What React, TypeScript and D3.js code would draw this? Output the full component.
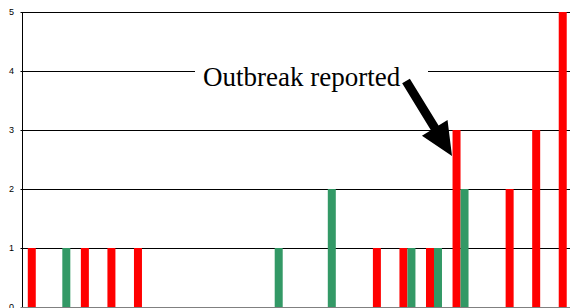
import React from "react";
import * as d3 from "d3";

const categories = [
  "1", "2", "3", "4", "5", "6", "7", "8", "9", "10", "11",
  "12", "13", "14", "15", "16", "17", "18", "19", "20", "21",
];
const redValues = [1, 0, 1, 1, 1, 0, 0, 0, 0, 0, 0, 0, 0, 1, 1, 1, 3, 0, 2, 3, 5];
const greenValues = [0, 1, 0, 0, 0, 0, 0, 0, 0, 1, 0, 2, 0, 0, 1, 1, 2, 0, 0, 0, 0];
const yTicks = [0, 1, 2, 3, 4, 5];
const seriesNames = ["red", "green"];
const seriesColors = { red: "#ff0000", green: "#339966" };
const annotation = "Outbreak reported";

const width = 570,
  height = 308;
const margin = { top: 12, right: -10, bottom: 1, left: 22.5 };

export default function App() {
  const x = d3
    .scaleBand()
    .domain(categories)
    .range([margin.left, width - margin.right]);
  const xs = d3
    .scaleBand()
    .domain(seriesNames)
    .range([0, x.bandwidth()])
    .paddingOuter(0.66);
  const y = d3
    .scaleLinear()
    .domain([0, 5])
    .range([height - margin.bottom, margin.top]);

  const bars = [];
  categories.forEach((c, i) => {
    const vals = { red: redValues[i], green: greenValues[i] };
    seriesNames.forEach((s) => {
      if (!vals[s]) return;
      bars.push(
        <rect
          key={c + s}
          x={x(c) + xs(s)}
          y={y(vals[s])}
          width={xs.bandwidth()}
          height={y(0) - y(vals[s])}
          fill={seriesColors[s]}
        />
      );
    });
  });

  // arrow from the label down to the red bar of week 17
  const tail = [406, 81],
    tip = [452, 156];
  const len = Math.hypot(tip[0] - tail[0], tip[1] - tail[1]);
  const ang = (Math.atan2(tip[1] - tail[1], tip[0] - tail[0]) * 180) / Math.PI;
  const sw = 4.5,
    hw = 15,
    hl = 33;
  const arrowPath = `M0,${-sw} L${len - hl},${-sw} L${len - hl},${-hw} L${len},0 L${len - hl},${hw} L${len - hl},${sw} L0,${sw} Z`;

  return (
    <div style={{ position: "absolute", left: 0, top: 0 }}>
      <svg width={width} height={height} style={{ display: "block" }}>
        <rect width={width} height={height} fill="#fff" />
        {yTicks.map((t) => (
          <g key={t}>
            <line
              x1={margin.left - 2}
              x2={width}
              y1={Math.round(y(t)) + 0.5}
              y2={Math.round(y(t)) + 0.5}
              stroke={t === 0 ? "#808080" : "#000"}
              strokeWidth={1}
            />
            <text
              x={14}
              y={y(t)}
              dy="0.35em"
              textAnchor="end"
              fontFamily="Arial, Liberation Sans, sans-serif"
              fontSize={9}
              fill="#000"
            >
              {t}
            </text>
          </g>
        ))}
        <line
          x1={margin.left}
          x2={margin.left}
          y1={y(5)}
          y2={y(0)}
          stroke="#000"
          strokeWidth={1}
        />
        {bars}
        <rect x={195} y={58} width={233} height={38} fill="#fff" />
        <text
          x={203}
          y={86}
          fontFamily="Times New Roman, Liberation Serif, serif"
          fontSize={27}
          fill="#000"
        >
          {annotation}
        </text>
        <path
          d={arrowPath}
          transform={`translate(${tail[0]},${tail[1]}) rotate(${ang})`}
          fill="#000"
        />
      </svg>
    </div>
  );
}
